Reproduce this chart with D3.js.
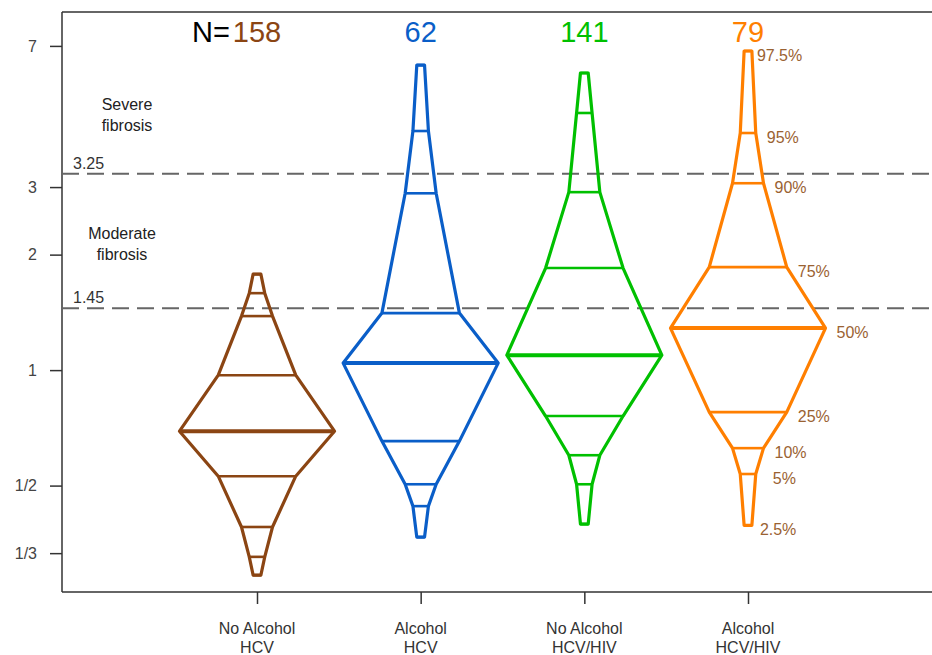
<!DOCTYPE html>
<html>
<head>
<meta charset="utf-8">
<script src="https://cdn.jsdelivr.net/npm/d3@7"></script>
<style>
  body { margin: 0; background: #fff; }
  text { font-family: Arial, "Liberation Sans", sans-serif; }
</style>
</head>
<body>
<svg id="canvas" width="932" height="655"></svg>
<script>
// data
var groups = ['No Alcohol|HCV', 'Alcohol|HCV', 'No Alcohol|HCV/HIV', 'Alcohol|HCV/HIV'];
var counts = [158, 62, 141, 79];
var colors = ['#8b4513', '#0a5ec8', '#00c000', '#ff7f00'];
var probs = [0.025, 0.05, 0.10, 0.25, 0.50, 0.75, 0.90, 0.95, 0.975];
var probLabels = ['2.5%', '5%', '10%', '25%', '50%', '75%', '90%', '95%', '97.5%'];
var q_noalc_hcv = [0.292, 0.326, 0.390, 0.529, 0.693, 0.970, 1.383, 1.587, 1.779];
var q_alc_hcv = [0.367, 0.442, 0.504, 0.653, 1.043, 1.408, 2.89, 4.20, 6.24];
var q_noalc_hiv = [0.397, 0.504, 0.600, 0.759, 1.094, 1.845, 2.91, 4.68, 5.95];
var q_alc_hiv = [0.394, 0.536, 0.626, 0.777, 1.287, 1.856, 3.07, 4.15, 6.79];
var quantiles = [q_noalc_hcv, q_alc_hcv, q_noalc_hiv, q_alc_hiv];
var yTicks = [1/3, 1/2, 1, 2, 3, 7];
var yTickLabels = ['1/3', '1/2', '1', '2', '3', '7'];
var cutoffs = [1.45, 3.25];
var zoneLabels = [['Moderate', 'fibrosis'], ['Severe', 'fibrosis']];

var svg = d3.select('#canvas');
var left = 62, top_ = 12, bottom = 592, right = 932;

var y = d3.scaleLog().domain([0.264, 8.58]).range([bottom, top_]);
var x = d3.scalePoint().domain(groups).range([257, 748]);
var w = d3.scaleLinear().domain([0, 0.5]).range([0, 77.5]);

// ************************************************************************************** //
// Frame and axes

svg.append('line').attr('x1', left).attr('y1', top_).attr('x2', right).attr('y2', top_)
  .style('stroke', '#333').style('stroke-width', 1.5);

var yAxis = svg.append('g').attr('transform', 'translate(' + left + ',0)')
  .call(d3.axisLeft(y).tickValues(yTicks).tickFormat((d, i) => yTickLabels[i]).tickSize(12).tickPadding(13));
yAxis.select('.domain').attr('d', 'M0,' + top_ + 'V' + bottom).style('stroke', '#333').style('stroke-width', 1.5);
yAxis.selectAll('.tick line').style('stroke', '#333').style('stroke-width', 1.5);
yAxis.selectAll('.tick text').style('font-size', '16px').style('fill', '#444');

var xAxis = svg.append('g').attr('transform', 'translate(0,' + bottom + ')')
  .call(d3.axisBottom(x).tickSize(12).tickFormat(''));
xAxis.select('.domain').attr('d', 'M' + left + ',0H' + right).style('stroke', '#333').style('stroke-width', 1.5);
xAxis.selectAll('.tick line').style('stroke', '#333').style('stroke-width', 1.5);

groups.forEach(g => {
  g.split('|').forEach((p, j) => {
    svg.append('text').attr('x', x(g)).attr('y', 634 + j * 19).attr('text-anchor', 'middle')
      .style('font-size', '16px').style('fill', '#333').text(p);
  });
});

// ************************************************************************************** //
// Fibrosis cut-offs

cutoffs.forEach((c, i) => {
  svg.append('line').attr('x1', left).attr('x2', right).attr('y1', y(c)).attr('y2', y(c))
    .style('stroke', '#666').style('stroke-width', 2).style('stroke-dasharray', '17,8');
  svg.append('text').attr('x', 73).attr('y', y(c) - 5).style('font-size', '16px').style('fill', '#333').text(c);
  var lo = c, hi = i + 1 < cutoffs.length ? cutoffs[i + 1] : 7;
  var mid = Math.sqrt(lo * hi);
  zoneLabels[i].forEach((t, j) => {
    svg.append('text').attr('x', i == 0 ? 122 : 127).attr('y', y(mid) + (i == 0 ? -2 : 0) + j * 21).attr('text-anchor', 'middle')
      .style('font-size', '16px').style('fill', '#222').text(t);
  });
});

// ************************************************************************************** //
// Box-percentile shapes

groups.forEach((g, gi) => {
  var q = quantiles[gi], cx = x(g), col = colors[gi];
  var hw = probs.map(p => w(Math.min(p, 1 - p)));
  var pts = [];
  q.forEach((v, k) => pts.push([cx + hw[k], y(v)]));
  for (var k = q.length - 1; k >= 0; k--) pts.push([cx - hw[k], y(q[k])]);
  svg.append('path').attr('d', d3.line()(pts) + 'Z')
    .style('fill', 'none').style('stroke', col).style('stroke-width', 3.2).style('stroke-linejoin', 'round');
  q.forEach((v, k) => {
    svg.append('line').attr('x1', cx - hw[k]).attr('x2', cx + hw[k]).attr('y1', y(v)).attr('y2', y(v))
      .style('stroke', col).style('stroke-width', probs[k] == 0.5 ? 4 : 2.6);
  });

  svg.append('text').attr('x', cx).attr('y', 42).attr('text-anchor', 'middle')
    .style('font-size', '29px').style('fill', col).text(counts[gi]);

  if (gi == groups.length - 1) {
    q.forEach((v, k) => {
      var dx = probs[k] == 0.05 ? 17 : (probs[k] == 0.975 ? 5 : (probs[k] == 0.025 ? 8 : 11));
      svg.append('text').attr('x', cx + hw[k] + dx).attr('y', y(v) + 10)
        .style('font-size', '16px').style('fill', '#9a6232').text(probLabels[k]);
    });
  }
});

svg.append('text').attr('x', x(groups[0]) - 27).attr('y', 42).attr('text-anchor', 'end')
  .style('font-size', '29px').style('fill', '#000').text('N=');
</script>
</body>
</html>
